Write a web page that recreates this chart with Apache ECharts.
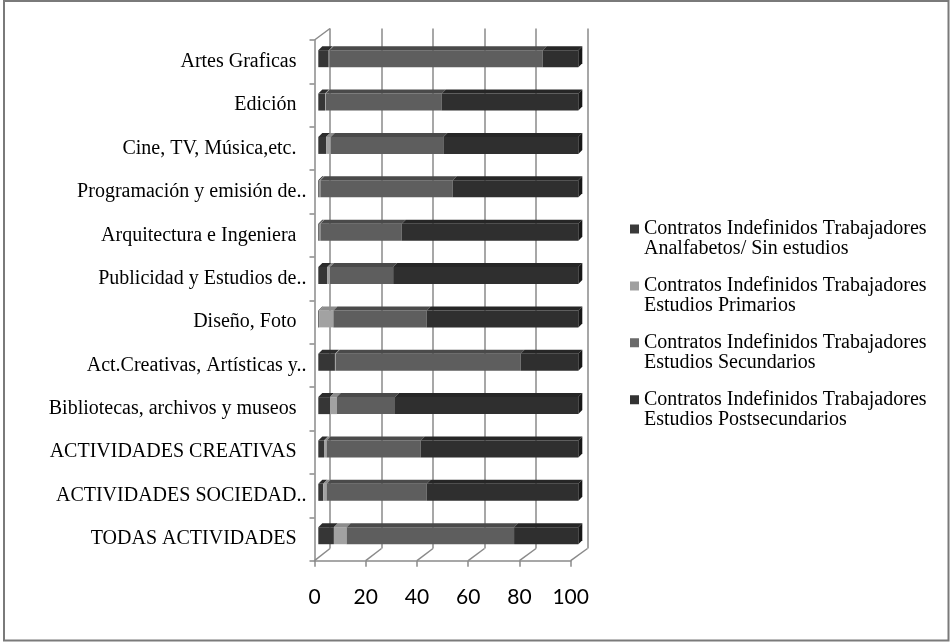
<!DOCTYPE html>
<html>
<head>
<meta charset="utf-8">
<script src="https://cdn.jsdelivr.net/npm/echarts@6/dist/echarts.min.js"></script>
<style>
  html, body { margin: 0; padding: 0; background: #ffffff; }
  #chart { width: 951px; height: 643px; }
</style>
</head>
<body>
<div id="chart"></div>
<script>
// Sectors, top to bottom
const categories = [
  'Artes Graficas',
  'Edición',
  'Cine, TV, Música,etc.',
  'Programación y emisión de..',
  'Arquitectura e Ingeniera',
  'Publicidad y Estudios de..',
  'Diseño, Foto',
  'Act.Creativas, Artísticas y..',
  'Bibliotecas, archivos y museos',
  'ACTIVIDADES CREATIVAS',
  'ACTIVIDADES SOCIEDAD..',
  'TODAS ACTIVIDADES'
];

// Share (%) of permanent contracts by education level
const analfabetos     = [4.0, 2.6, 3.0, 0.5, 0.5, 3.5, 0.3, 6.4, 4.5, 2.2, 1.9, 6.0];
const primarios       = [0.3, 0.3, 1.8, 0.3, 0.3, 1.0, 5.5, 0.3, 2.6, 1.0, 1.3, 4.9];
const secundarios     = [82.0, 44.6, 43.3, 50.9, 31.3, 24.3, 35.9, 71.1, 22.4, 36.2, 38.5, 64.4];
const postsecundarios = [13.7, 52.5, 51.9, 48.3, 67.9, 71.2, 58.3, 22.2, 70.5, 60.6, 58.3, 24.7];

const seriesNames = [
  'Contratos Indefinidos Trabajadores Analfabetos/ Sin estudios',
  'Contratos Indefinidos Trabajadores Estudios Primarios',
  'Contratos Indefinidos Trabajadores Estudios Secundarios',
  'Contratos Indefinidos Trabajadores Estudios Postsecundarios'
];

// Value axis ticks
const xTicks = [0, 20, 40, 60, 80, 100];

const seriesValues = [analfabetos, primarios, secundarios, postsecundarios];

// Shading of each segment: front face, top face, end cap
const frontColors = ['#363636', '#a2a2a2', '#5e5e5e', '#2f2f2f'];
const topColors   = ['#2c2c2c', '#8c8c8c', '#4a4a4a', '#262626'];
const sideColor   = '#181818';
const legendColors = ['#3a3a3a', '#a0a0a0', '#6a6a6a', '#333333'];

// Layout of the three planes of the pseudo-3D box
const FRONT = { left: 314.5, top: 40, width: 256.2, height: 520.7 };
const BACK  = { left: 330, top: 28.5, width: 257.5, height: 520 };
const BARS  = { left: 318.3, top: 37, width: 260, height: 520.4 };
const BAR_H = 17;
const DEPTH = 4;
const LINE = '#8a8a8a';

const serif = '"Liberation Serif", "Times New Roman", serif';

function segmentSeries(idx) {
  const last = seriesValues.length - 1;
  const data = categories.map((c, i) => {
    let start = 0;
    for (let k = 0; k < idx; k++) start += seriesValues[k][i];
    return [i, start, start + seriesValues[idx][i], seriesValues[idx][i]];
  });
  return {
    type: 'custom',
    name: seriesNames[idx],
    xAxisIndex: 2,
    yAxisIndex: 2,
    encode: { x: [1, 2], y: 0 },
    itemStyle: { color: legendColors[idx] },
    data: data,
    renderItem: function (params, api) {
      const cat = api.value(0);
      const a = api.coord([api.value(1), cat]);
      const b = api.coord([api.value(2), cat]);
      const top = a[1] - BAR_H / 2;
      const bot = a[1] + BAR_H / 2;
      const x0 = a[0], x1 = b[0];
      const children = [
        {
          type: 'rect',
          shape: { x: x0, y: top, width: Math.max(x1 - x0, 0), height: BAR_H },
          style: { fill: frontColors[idx] }
        },
        {
          type: 'polygon',
          shape: { points: [[x0, top], [x1, top], [x1 + DEPTH, top - DEPTH], [x0 + DEPTH, top - DEPTH]] },
          style: { fill: topColors[idx] }
        }
      ];
      if (idx === last) {
        children.push({
          type: 'polygon',
          shape: { points: [[x1, top], [x1 + DEPTH, top - DEPTH], [x1 + DEPTH, bot - DEPTH], [x1, bot]] },
          style: { fill: sideColor }
        });
      }
      return { type: 'group', children: children };
    }
  };
}

const chart = echarts.init(document.getElementById('chart'), null, { renderer: 'canvas' });

chart.setOption({
  animation: false,
  backgroundColor: '#ffffff',
  grid: [
    Object.assign({ containLabel: false }, FRONT),
    Object.assign({ containLabel: false }, BACK),
    Object.assign({ containLabel: false }, BARS)
  ],
  xAxis: [
    {
      gridIndex: 0, type: 'value', min: 0, max: 100, interval: 20,
      axisLine: { show: true, lineStyle: { color: LINE, width: 1.5 } },
      axisTick: { show: true, length: 6, lineStyle: { color: LINE, width: 1.5 } },
      splitLine: { show: false },
      axisLabel: {
        margin: 26, color: '#000000',
        fontFamily: 'Lato, "Open Sans", sans-serif', fontSize: 21
      }
    },
    {
      gridIndex: 1, type: 'value', min: 0, max: 100, interval: 20,
      axisLine: { show: false }, axisTick: { show: false }, axisLabel: { show: false },
      splitLine: { show: true, showMinLine: true, showMaxLine: true, lineStyle: { color: LINE, width: 1.5 } }
    },
    {
      gridIndex: 2, type: 'value', min: 0, max: 100, show: false
    }
  ],
  yAxis: [
    {
      gridIndex: 0, type: 'category', data: categories, inverse: true,
      axisLine: { show: true, lineStyle: { color: LINE, width: 1.5 } },
      axisTick: { show: true, length: 5, lineStyle: { color: LINE, width: 1.5 } },
      axisLabel: {
        margin: 8, color: '#000000', fontFamily: serif, fontSize: 20,
        formatter: function (v) { return v.endsWith('..') ? v : v + '  '; }
      }
    },
    { gridIndex: 1, type: 'category', data: categories, inverse: true, show: false },
    { gridIndex: 2, type: 'category', data: categories, inverse: true, show: false }
  ],
  legend: {
    orient: 'vertical',
    left: 630,
    top: 219,
    padding: 0,
    itemGap: 16.9,
    itemWidth: 9,
    itemHeight: 29,
    icon: 'path://M0,0H9V9H0Z M0,29L0.01,29L0,29.01Z',
    selectedMode: false,
    data: seriesNames,
    textStyle: { fontFamily: serif, fontSize: 20, lineHeight: 20, color: '#000000' },
    formatter: function (name) { return name.replace('Trabajadores ', 'Trabajadores\n'); }
  },
  series: seriesValues.map((v, i) => segmentSeries(i))
});

// Floor and wall edges joining the front plane to the back wall
const frontBottom = FRONT.top + FRONT.height;
const backBottom = BACK.top + BACK.height;
const edges = xTicks.map(v => {
  const xf = chart.convertToPixel({ xAxisIndex: 0 }, v);
  const xb = chart.convertToPixel({ xAxisIndex: 1 }, v);
  return {
    type: 'line',
    shape: { x1: xf, y1: frontBottom, x2: xb, y2: backBottom },
    style: { stroke: LINE, lineWidth: 1.5 },
    silent: true
  };
});
edges.push({
  type: 'line',
  shape: {
    x1: chart.convertToPixel({ xAxisIndex: 0 }, xTicks[0]), y1: FRONT.top,
    x2: chart.convertToPixel({ xAxisIndex: 1 }, xTicks[0]), y2: BACK.top
  },
  style: { stroke: LINE, lineWidth: 1.5 },
  silent: true
});

chart.setOption({
  graphic: [
    {
      type: 'rect',
      shape: { x: 4, y: 1, width: 944.5, height: 639.5 },
      style: { fill: null, stroke: '#7a7a7a', lineWidth: 2 },
      silent: true,
      z: 0
    }
  ].concat(edges)
});
</script>
</body>
</html>
